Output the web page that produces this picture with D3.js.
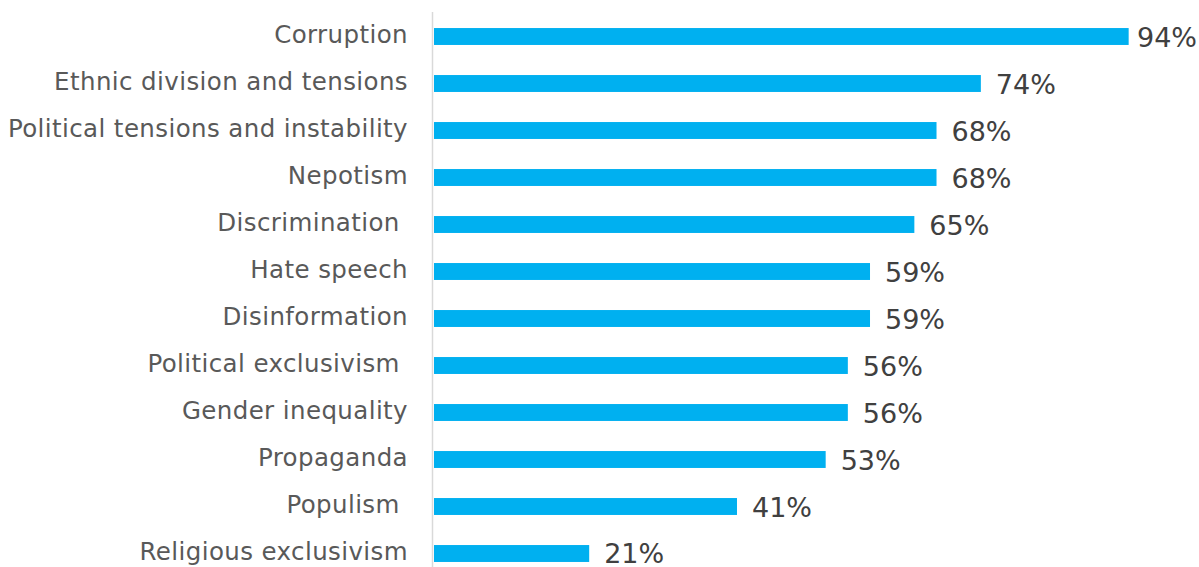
<!DOCTYPE html>
<html>
<head>
<meta charset="utf-8">
<script src="https://cdn.jsdelivr.net/npm/d3@7"></script>
<style>
  body { margin: 0; background: #fff; }
  text { white-space: pre; }
</style>
</head>
<body>
<script>
var categories = ["Corruption", "Ethnic division and tensions", "Political tensions and instability",
  "Nepotism", "Discrimination ", "Hate speech", "Disinformation", "Political exclusivism ",
  "Gender inequality", "Propaganda", "Populism ", "Religious exclusivism"];
var values = [94, 74, 68, 68, 65, 59, 59, 56, 56, 53, 41, 21];

var W = 1199, H = 567;
var x0 = 434;

var svg = d3.select("body").append("svg")
  .attr("width", W)
  .attr("height", H);

var x = d3.scaleLinear()
  .domain([0, 100])
  .range([x0, x0 + 739]);

var y = d3.scaleBand()
  .domain(categories)
  .range([13, 577])
  .paddingInner(0.64)
  .paddingOuter(0.32);

var rows = categories.map(function(c, i) { return {cat: c, val: values[i]}; });

// bars
svg.append("g")
  .selectAll("rect")
    .data(rows)
  .enter().append("rect")
    .attr("x", x(0))
    .attr("y", function(d) { return y(d.cat); })
    .attr("width", function(d) { return x(d.val) - x(0); })
    .attr("height", y.bandwidth())
    .attr("fill", "#00b0f0");

// category axis line
svg.append("line")
  .attr("x1", 432.5).attr("x2", 432.5)
  .attr("y1", 12).attr("y2", H)
  .attr("stroke", "#d9d9d9")
  .attr("stroke-width", 1.5);

// category labels
svg.append("g")
  .selectAll("text")
    .data(rows)
  .enter().append("text")
    .attr("x", 408)
    .attr("y", function(d) { return y(d.cat) + y.bandwidth() / 2 - 2; })
    .attr("dy", "0.35em")
    .attr("text-anchor", "end")
    .attr("font-family", "'DejaVu Sans', sans-serif")
    .attr("font-size", 24.5)
    .attr("letter-spacing", 0.4)
    .attr("fill", "#595959")
    .text(function(d) { return d.cat; });

// value labels
var vl = svg.append("g")
  .selectAll("text")
    .data(rows)
  .enter().append("text")
    .attr("y", function(d, i) { return y(d.cat) + y.bandwidth() / 2 + (i === rows.length - 1 ? 0 : 1); })
    .attr("dy", "0.35em")
    .attr("font-family", "'DejaVu Sans', sans-serif")
    .attr("font-size", 27)
    .attr("fill", "#404040")
    .text(function(d) { return d.val + "%"; });

vl.attr("x", function(d) {
  var w = this.getComputedTextLength();
  return Math.min(x(d.val) + 15, W - 2 - w);
});
</script>
</body>
</html>
